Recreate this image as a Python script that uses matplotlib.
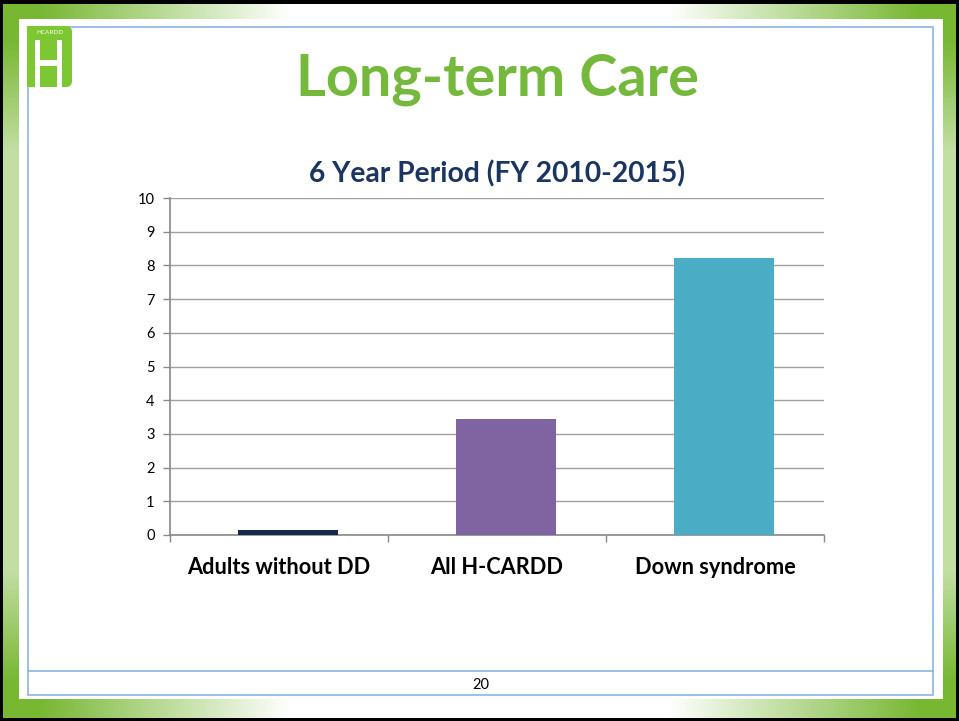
import numpy as np
import matplotlib
matplotlib.use("Agg")
import matplotlib.pyplot as plt
from matplotlib.patches import Rectangle, FancyBboxPatch

# ---- data ----
categories = ["Adults without DD", "All H-CARDD", "Down syndrome"]
values = [0.15, 3.45, 8.22]
bar_colors = ["#14284A", "#8064A2", "#4BACC6"]
y_ticks = list(range(0, 11))

slide_title = "Long-term Care"
chart_title = "6 Year Period (FY 2010-2015)"
page_no = "20"

W, H = 959, 721
plt.rcParams["font.family"] = ["Lato", "DejaVu Sans"]

fig = plt.figure(figsize=(W / 100, H / 100), dpi=100)

# ---- slide background / frame ----
bg = fig.add_axes([0, 0, 1, 1])
bg.set_xlim(0, W)
bg.set_ylim(H, 0)
bg.axis("off")

green = np.array([0.47, 0.72, 0.20])
yy, xx = np.mgrid[0:H, 0:W]
tb = (yy < 19) | (yy >= 699)
lr = (xx < 19) | (xx >= 943)
d_x = np.minimum(xx, W - 1 - xx)
d_y = np.minimum(yy, H - 1 - yy)
w_tb = np.clip(1 - (d_x - 40) / 250.0, 0, 1)
w_lr = np.clip(1 - (d_y - 40) / 200.0, 0.45, 1)
w = np.where(tb, w_tb, 0.0)
w = np.maximum(w, np.where(lr, w_lr, 0.0))
img = 1 - w[..., None] * (1 - green)
black = (xx < 3) | (xx >= W - 3) | (yy < 4) | (yy >= H - 3)
img[black] = 0.0
bg.imshow(img, extent=(0, W, H, 0), interpolation="bilinear", zorder=0)

blue = "#8DB4E2"
bg.add_patch(Rectangle((27.5, 26.5), 905.5, 668, fill=False, ec=blue, lw=1.2, zorder=2))
bg.plot([27.5, 933], [671, 671], color=blue, lw=1.2, zorder=2)

# logo
logo_green = "#7DC832"
bg.add_patch(FancyBboxPatch((27, 26), 45, 61, boxstyle="round,pad=0,rounding_size=6",
                            fc=logo_green, ec="none", zorder=3))
bg.add_patch(Rectangle((27, 26), 10, 61, fc=logo_green, ec="none", zorder=3))
for x0, y0, ww, hh in [(35, 40, 5, 47), (57, 40, 5, 47), (35, 60, 27, 5.5)]:
    bg.add_patch(Rectangle((x0, y0), ww, hh, fc="white", ec="none", zorder=4))
bg.text(49.5, 33, "HCARDD", color="white", fontsize=4.6, ha="center", va="center", zorder=4)

bg.text(497, 80, slide_title, color="#74B83C", fontsize=41.5, fontweight="bold",
        ha="center", va="center", zorder=4)
bg.text(481, 685, page_no, color="black", fontsize=10.5, ha="center", va="center", zorder=4)
bg.text(497, 174, chart_title, color="#1A355F", fontsize=20.3, fontweight="bold",
        ha="center", va="center", zorder=4)

# ---- chart ----
ax = fig.add_axes([170 / W, 1 - 535 / H, 654 / W, 337 / H])
ax.set_facecolor("none")
x = np.arange(len(categories)) + 0.04
ax.bar(x, values, width=0.46, color=bar_colors, zorder=3)

ax.set_xlim(-0.5, len(categories) - 0.5)
ax.set_ylim(0, 10)
ax.set_yticks(y_ticks)
ax.set_yticklabels([str(t) for t in y_ticks], fontsize=10.5)
ax.yaxis.grid(True, color="#A0A0A0", lw=1.0, zorder=0)
ax.set_xticks(np.arange(len(categories)))
ax.set_xticklabels(categories, fontsize=15.7, fontweight="bold")
ax.set_xticks(np.arange(len(categories) + 1) - 0.5, minor=True)
ax.tick_params(axis="x", which="major", length=0, pad=16)
ax.tick_params(axis="x", which="minor", length=5, color="#888888", width=1)
ax.tick_params(axis="y", length=5, color="#888888", width=1, pad=6)

for s in ["top", "right"]:
    ax.spines[s].set_visible(False)
for s in ["left", "bottom"]:
    ax.spines[s].set_color("#888888")
    ax.spines[s].set_linewidth(1.2)

fig.savefig("out.png", dpi=100)
